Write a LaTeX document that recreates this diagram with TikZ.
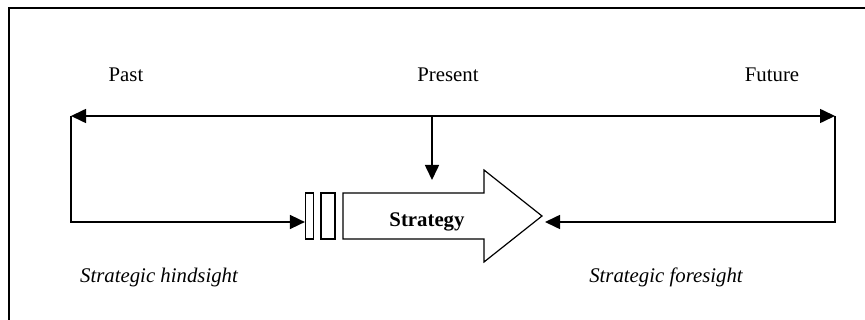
\documentclass[tikz,border=0pt]{standalone}
\usepackage{fontspec}
\setmainfont{Liberation Serif}
\usetikzlibrary{arrows.meta}
\tikzset{
  lbl/.style={anchor=base, inner sep=0pt, font=\fontsize{20.8}{24}\selectfont},
  ilbl/.style={lbl, font=\fontsize{20.8}{24}\selectfont\itshape},
  line/.style={line width=1.6pt},
  tip/.style={-{Triangle[length=15pt,width=14pt]}},
  bar/.style={draw, line width=1.2pt, rectangle, inner sep=0pt, minimum height=46pt},
}
\begin{document}
\begin{tikzpicture}[x=1pt,y=-1pt]
\useasboundingbox (0,0) rectangle (865,320);
% frame (top and left edges visible)
\draw[line width=1.8pt] (9,330) -- (9,8) -- (875,8);
% coordinates
\coordinate (L) at (71,116);
\coordinate (R) at (835,116);
\coordinate (P) at (432,116);
\coordinate (LB) at (71,222);
\coordinate (RB) at (835,222);
% bars
\node[bar, minimum width=8pt] (b1) at (309.5,216) {};
\node[bar, minimum width=14pt] (b2) at (328,216) {};
% big arrow
\draw[line width=1.2pt] (343,193) -- (484,193) -- (484,170) -- (542,216) -- (484,262) -- (484,239) -- (343,239) -- cycle;
\coordinate (tipS) at (542,222);
\node[lbl, font=\fontsize{20.8}{24}\selectfont\bfseries] (s) at (427,227) {Strategy};
% time line
\draw[line, {Triangle[length=15pt,width=14pt]}-{Triangle[length=15pt,width=14pt]}] (L) -- (R);
\draw[line, tip] (P) -- (432,180) coordinate (pe);
\draw[line, tip] (L) -- (LB) -- (b1.west |- LB);
\draw[line, tip] (R) -- (RB) -- (545,222);
% labels
\node[lbl] (past) at (126,82) {Past};
\node[lbl] (present) at (448,82) {Present};
\node[lbl] (future) at (772,82) {Future};
\node[ilbl] (hind) at (159,283) {Strategic hindsight};
\node[ilbl] (fore) at (666,283) {Strategic foresight};
\end{tikzpicture}
\end{document}
